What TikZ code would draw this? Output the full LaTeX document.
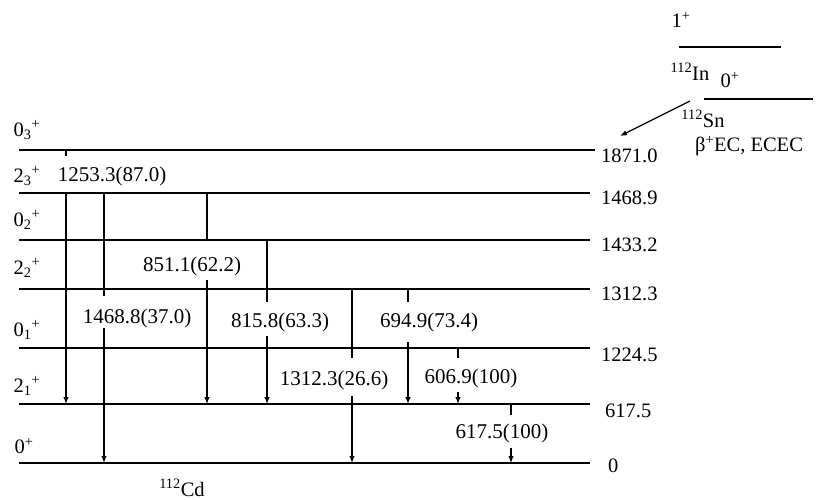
\documentclass[tikz,border=0pt]{standalone}
\usepackage{fontspec}
\setmainfont{Liberation Serif}
\usetikzlibrary{arrows.meta}
\begin{document}
\begin{tikzpicture}[x=1pt,y=-1pt,
  lvl/.style={line width=1.6pt},
  trn/.style={line width=1.2pt},
  trna/.style={line width=1.2pt,-{Latex[length=7pt,width=5.5pt]}},
  lab/.style={inner sep=0pt,font=\fontsize{21}{24}\selectfont},
  val/.style={inner sep=0pt,anchor=west,font=\fontsize{20.5}{24}\selectfont},
  spin/.style={inner sep=0pt,font=\fontsize{20.5}{24}\selectfont}]
\useasboundingbox (0,0) rectangle (830,500);
% level lines
\foreach \n/\y/\r in {a/150/595,b/193/590,c/240/590,d/289/590,e/348/590,f/404/590,g/463/590}{
  \coordinate (L\n l) at (19,\y);
  \coordinate (L\n r) at (\r,\y);
  \draw[lvl] (L\n l) -- (L\n r);
}
% level values
\node[val] (v1) at (601,156) {1871.0};
\node[val] (v2) at (601,198) {1468.9};
\node[val] (v3) at (601,245) {1433.2};
\node[val] (v4) at (601,294) {1312.3};
\node[val] (v5) at (601,355) {1224.5};
\node[val] (v6) at (605,411) {617.5};
\node[val] (v7) at (608,466) {0};
% spin labels
\node[spin] (s1) at (27,130) {0\textsubscript{3}\textsuperscript{+}};
\node[spin] (s2) at (27,176) {2\textsubscript{3}\textsuperscript{+}};
\node[spin] (s3) at (27,220) {0\textsubscript{2}\textsuperscript{+}};
\node[spin] (s4) at (27,268) {2\textsubscript{2}\textsuperscript{+}};
\node[spin] (s5) at (27,330) {0\textsubscript{1}\textsuperscript{+}};
\node[spin] (s6) at (27,386) {2\textsubscript{1}\textsuperscript{+}};
\node[spin] (s7) at (24,446) {0\textsuperscript{+}};
\node[spin] (cd) at (182,488) {\textsuperscript{112}Cd};
% transition labels
\node[lab] (g1) at (112,176) {1253.3(87.0)};
\node[lab] (g2) at (137,318) {1468.8(37.0)};
\node[lab] (g3) at (192,266) {851.1(62.2)};
\node[lab] (g4) at (280,322) {815.8(63.3)};
\node[lab] (g5) at (334,380) {1312.3(26.6)};
\node[lab] (g6) at (429,322) {694.9(73.4)};
\node[lab] (g7) at (471,378) {606.9(100)};
\node[lab] (g8) at (502,433) {617.5(100)};
% transitions: top segment and arrowed bottom segment
\foreach \i/\x/\ya/\yb/\yc/\yd in {1/66/150/156/193/404, 2/104/193/296/328/463, 3/207/193/241/280/404,
  4/267/240/302/336/404, 5/352/289/358/396/463, 6/408/289/302/342/404, 7/458/349/358/392/404, 8/511/405/415/448/463}{
  \coordinate (t\i a) at (\x,\ya);
  \coordinate (t\i b) at (\x,\yb);
  \coordinate (t\i c) at (\x,\yc);
  \coordinate (t\i d) at (\x,\yd);
  \draw[trn] (t\i a) -- (t\i b);
  \draw[trna] (t\i c) -- (t\i d);
}
% parent nuclei
\coordinate (inl) at (679,47); \coordinate (inr) at (781,47);
\coordinate (snl) at (704,99); \coordinate (snr) at (813,99);
\draw[line width=1.3pt] (inl) -- (inr);
\draw[line width=1.3pt] (snl) -- (snr);
\node[spin] (p1) at (681,20) {1\textsuperscript{+}};
\node[spin] (in) at (690,72) {\textsuperscript{112}In};
\node[spin] (p0) at (730,80) {0\textsuperscript{+}};
\node[spin] (sn) at (703,119) {\textsuperscript{112}Sn};
\node[spin] (bec) at (749,146) {β\textsuperscript{+}EC, ECEC};
\coordinate (ar1) at (690,101);
\coordinate (ar2) at (620,136);
\draw[line width=1.3pt,-{Latex[length=7pt,width=5.5pt]}] (ar1) -- (ar2);
\end{tikzpicture}
\end{document}
